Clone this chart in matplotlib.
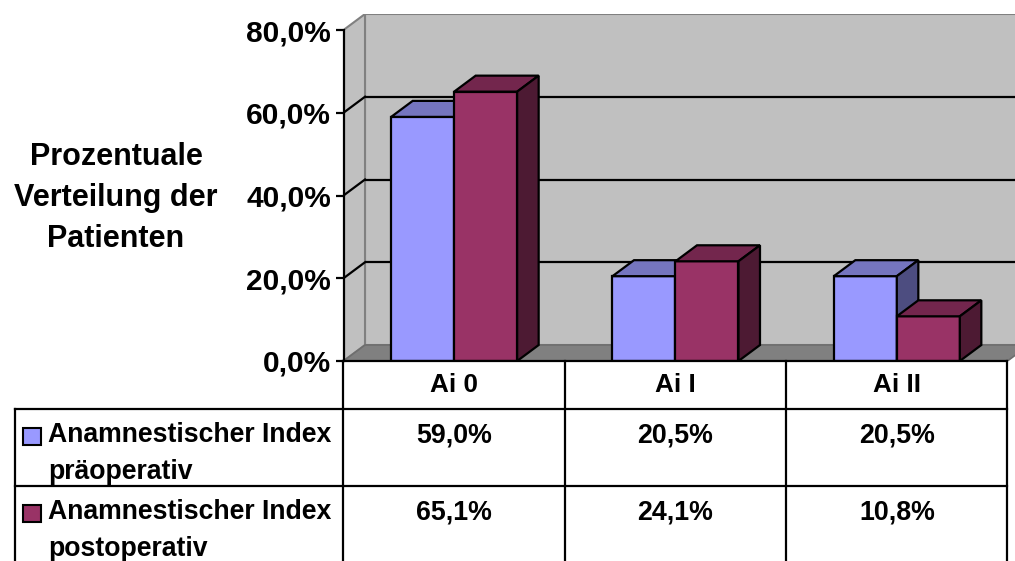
import matplotlib
matplotlib.use("Agg")
import matplotlib.pyplot as plt
from matplotlib.patches import Polygon, Rectangle

# ---------------- data ----------------
categories = ["Ai 0", "Ai I", "Ai II"]
series_names = [["Anamnestischer Index", "präoperativ"],
                ["Anamnestischer Index", "postoperativ"]]
pre_values = [59.0, 20.5, 20.5]
post_values = [65.1, 24.1, 10.8]
y_ticks = [0, 20, 40, 60, 80]
title_lines = ["Prozentuale", "Verteilung der", "Patienten"]

# colours: front, top, side
colors = [("#9999FF", "#7575BF", "#4D4D80"),
          ("#993366", "#73264D", "#4D1A33")]

FONT = "Liberation Sans"
plt.rcParams["font.family"] = [FONT, "DejaVu Sans"]
plt.rcParams["font.weight"] = "bold"

W, H = 1015, 561
fig = plt.figure(figsize=(W / 100, H / 100), dpi=100)


def fbox(l, t, r, b):
    return [l / W, 1 - b / H, (r - l) / W, (b - t) / H]


# ---------------- chart ----------------
ax_left, ax_right, ax_top, ax_bottom = 343.5, 1015, 14, 361
px_per_cat = 221.33
px_per_pct = 4.1375
ax = fig.add_axes(fbox(ax_left, ax_top, ax_right, ax_bottom))
xmin = -0.5
xmax = xmin + (ax_right - ax_left) / px_per_cat
ax.set_xlim(xmin, xmax)
ax.set_ylim(0, (ax_bottom - ax_top) / px_per_pct)
ax.patch.set_visible(False)
dx = 21.5 / px_per_cat
dy = 16.0 / px_per_pct
ymaxv = y_ticks[-1]
ncat = len(categories)

# back wall
ax.add_patch(Rectangle((xmin + dx, dy), (xmax + 1) - (xmin + dx), ymaxv,
                       facecolor="#C0C0C0", edgecolor="#808080", lw=1.5, zorder=1))
# left wall
ax.add_patch(Polygon([(xmin, 0), (xmin + dx, dy), (xmin + dx, ymaxv + dy), (xmin, ymaxv)],
                     closed=True, facecolor="#C0C0C0", edgecolor="#808080", lw=1.5, zorder=1))
# floor
ax.add_patch(Polygon([(xmin, 0), (xmin + ncat, 0), (xmin + ncat + dx, dy), (xmin + dx, dy)],
                     closed=True, facecolor="#808080", edgecolor="#6E6E6E", lw=1.2, zorder=2))
# gridlines
for v in y_ticks[1:-1]:
    ax.plot([xmin + dx, xmax + 1], [v + dy, v + dy], color="black", lw=1.6, zorder=1.5,
            solid_capstyle="butt")
    ax.plot([xmin, xmin + dx], [v, v + dy], color="black", lw=1.6, zorder=1.5)

# bars
bar_w = 63 / px_per_cat
for i in range(ncat):
    for s, vals in enumerate([pre_values, post_values]):
        v = vals[i]
        x0 = i - bar_w if s == 0 else i
        x1 = x0 + bar_w
        front, top, side = colors[s]
        kw = dict(closed=True, edgecolor="black", lw=1.6, joinstyle="miter", zorder=3)
        ax.add_patch(Polygon([(x0, 0), (x1, 0), (x1, v), (x0, v)], facecolor=front, **kw))
        ax.add_patch(Polygon([(x0, v), (x1, v), (x1 + dx, v + dy), (x0 + dx, v + dy)],
                             facecolor=top, **kw))
        ax.add_patch(Polygon([(x1, 0), (x1 + dx, dy), (x1 + dx, v + dy), (x1, v)],
                             facecolor=side, **kw))

# axis
for sp in ["top", "right", "bottom"]:
    ax.spines[sp].set_visible(False)
ax.spines["left"].set_bounds(0, ymaxv)
ax.spines["left"].set_linewidth(1.6)
ax.spines["left"].set_zorder(4)
ax.set_xticks([])
ax.set_yticks(y_ticks)
ax.set_yticklabels([("%.1f%%" % t).replace(".", ",") for t in y_ticks])
ax.tick_params(axis="y", direction="out", length=6, width=1.6, pad=3, labelsize=21.5)
for lab in ax.get_yticklabels():
    lab.set_fontweight("bold")

# ---------------- table (pixel coordinates) ----------------
tab = fig.add_axes([0, 0, 1, 1])
tab.set_xlim(0, W)
tab.set_ylim(H, 0)
tab.axis("off")

col_x = [343.5 + px_per_cat * k for k in range(ncat + 1)]
row_y = [361, 409, 486, H + 5]
lw = 1.6
# top border of header
tab.plot([col_x[0], col_x[-1]], [row_y[0], row_y[0]], color="black", lw=lw)
# row borders
for y in row_y[1:3]:
    tab.plot([15, col_x[-1]], [y, y], color="black", lw=lw)
# verticals
tab.plot([15, 15], [row_y[1], row_y[-1]], color="black", lw=lw)
for x in col_x:
    tab.plot([x, x], [row_y[0], row_y[-1]], color="black", lw=lw)

centers = [(col_x[k] + col_x[k + 1]) / 2 for k in range(ncat)]
for k, c in enumerate(categories):
    tab.text(centers[k], 385, c, ha="center", va="center", fontsize=18.8, fontweight="bold")

for s, vals in enumerate([pre_values, post_values]):
    ytop = row_y[1 + s]
    yline = ytop + 26
    for k, v in enumerate(vals):
        tab.text(centers[k], yline, ("%.1f%%" % v).replace(".", ","), ha="center",
                 va="center", fontsize=19.3, fontweight="bold")
    tab.add_patch(Rectangle((23, ytop + 19), 18, 17, facecolor=colors[s][0],
                            edgecolor="black", lw=1.5))
    tab.text(48, yline, series_names[s][0], ha="left", va="center", fontsize=19.2,
             fontweight="bold")
    tab.text(48, yline + 37, series_names[s][1], ha="left", va="center", fontsize=19.2,
             fontweight="bold")

# title
for j, t in enumerate(title_lines):
    tab.text(116, 157 + 41 * j, t, ha="center", va="center", fontsize=22, fontweight="bold")

fig.savefig("out.png", dpi=100)
